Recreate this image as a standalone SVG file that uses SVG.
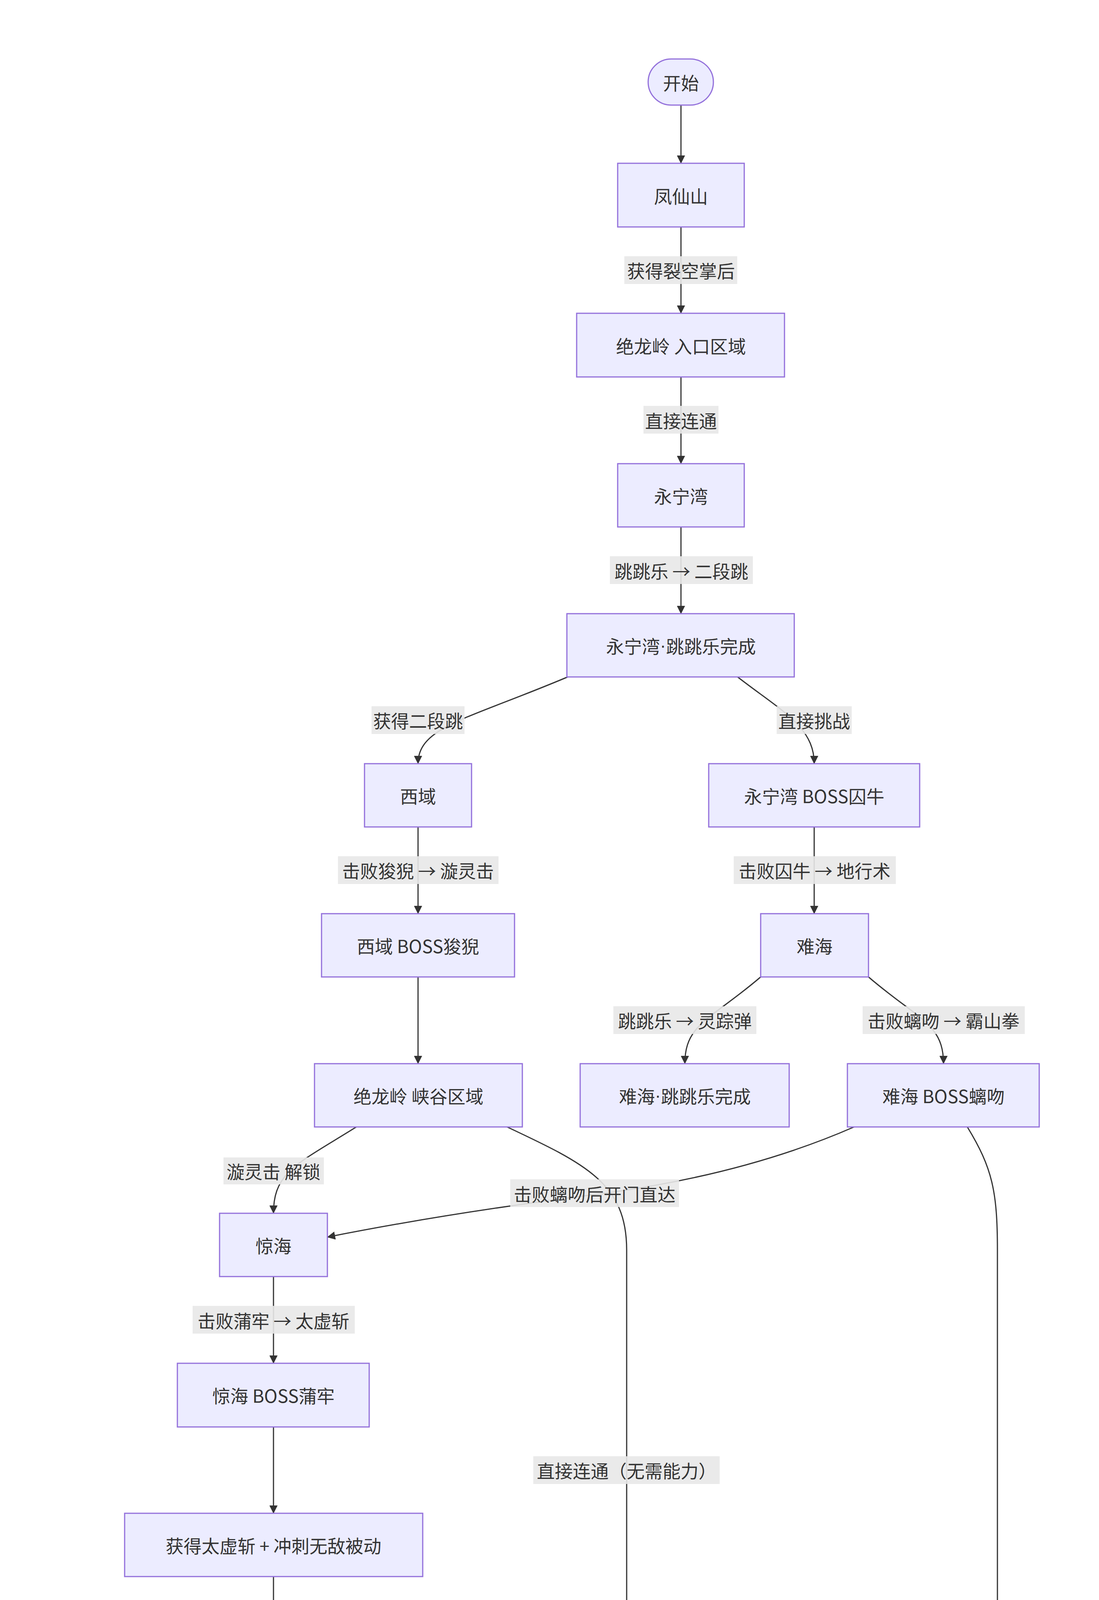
<svg xmlns="http://www.w3.org/2000/svg" width="2813" height="7623" viewBox="0 0 2813 7623">
<defs>
<marker id="a" viewBox="0 0 10 10" refX="9.5" refY="5" markerWidth="7" markerHeight="7" orient="auto"><path d="M0,0 L10,5 L0,10 z" fill="#333"/></marker>
</defs>
<style>
.n rect{fill:#ECECFF;stroke:#9370DB;stroke-width:3}
text{font-family:"Noto Sans CJK SC","Noto Sans",sans-serif;font-size:46px;fill:#333;text-anchor:middle;dominant-baseline:central}
.dot{font-family:"Liberation Sans",sans-serif}
.e path{fill:none;stroke:#333;stroke-width:3;marker-end:url(#a)}
.l rect{fill:#e8e8e8;opacity:0.9}
</style>
<rect width="2813" height="7623" fill="#fff"/>
<g class="e" id="edges">
<path d="M1743,269 L1743,418"/>
<path d="M1743,581 L1743,802"/>
<path d="M1743,965 L1743,1187"/>
<path d="M1743,1349 L1743,1571"/>
<path d="M1453,1733 C1200,1840 1070,1860 1070,1955"/>
<path d="M1888,1733 C2000,1820 2084,1860 2084,1955"/>
<path d="M1070,2117 L1070,2339"/>
<path d="M2084,2117 L2084,2339"/>
<path d="M1947,2501 C1820,2610 1753,2620 1753,2723"/>
<path d="M2223,2501 C2350,2610 2415,2620 2415,2723"/>
<path d="M1070,2501 L1070,2723"/>
<path d="M912,2885 C760,2980 700,3000 700,3106"/>
<path d="M1298,2885 C1500,2980 1604,3030 1604,3200 L1604,4571"/>
<path d="M2186,2885 Q1900,3010 1522,3058 T838,3167"/>
<path d="M2476,2885 C2540,2990 2553,3050 2553,3200 L2553,6340 C2553,6560 2200,6610 1652,6697"/>
<path d="M700,3268 L700,3490"/>
<path d="M700,3653 L700,3874"/>
<path d="M700,4036 L700,4258"/>
<path d="M700,4421 L700,4571"/>
<path d="M700,4733 L700,4955"/>
<path d="M1604,4733 L1604,4955"/>
<path d="M586,5117 C520,5190 482,5220 482,5267"/>
<path d="M884,5117 C990,5190 1049,5230 1049,5330 L1049,6300 C1049,6500 1150,6580 1258,6658"/>
<path d="M1507,5117 C1450,5190 1419,5220 1419,5267"/>
<path d="M1734,5117 C1820,5190 1850,5230 1850,5330 L1850,6300 C1850,6500 1700,6580 1608,6658"/>
<path d="M482,5429 L482,5651"/>
<path d="M1419,5429 L1419,5651"/>
<path d="M482,5813 L482,5962"/>
<path d="M1419,5813 L1419,5962"/>
<path d="M482,6124 L482,6274"/>
<path d="M1419,6124 L1419,6140 C1419,6220 1200,6240 813,6300"/>
<path d="M482,6436 L482,6480 C482,6560 700,6600 1186,6690"/>
<path d="M1419,6819 L1419,6970"/>
<path d="M1419,7204 L1419,7353"/>
</g>
<g class="l" id="edge-labels">
<rect x="1598" y="656" width="289" height="71"/><text x="1743" y="691">获得裂空掌后</text>
<rect x="1647" y="1039" width="192" height="71"/><text x="1743" y="1075">直接连通</text>
<rect x="1561" y="1424" width="366" height="71"/><text x="1744" y="1460">跳跳乐 → 二段跳</text>
<rect x="951" y="1808" width="238" height="71"/><text x="1070" y="1843">获得二段跳</text>
<rect x="1988" y="1808" width="192" height="71"/><text x="2084" y="1843">直接挑战</text>
<rect x="865" y="2192" width="411" height="71"/><text x="1070" y="2227">击败狻猊 → 漩灵击</text>
<rect x="1878" y="2192" width="415" height="71"/><text x="2085" y="2227">击败囚牛 → 地行术</text>
<rect x="1570" y="2576" width="366" height="71"/><text x="1753" y="2611">跳跳乐 → 灵踪弹</text>
<rect x="2208" y="2576" width="415" height="71"/><text x="2415" y="2611">击败螭吻 → 霸山拳</text>
<rect x="572" y="2963" width="257" height="69"/><text x="700" y="2997">漩灵击 解锁</text>
<rect x="1306" y="3019" width="432" height="71"/><text x="1522" y="3055">击败螭吻后开门直达</text>
<rect x="493" y="3343" width="415" height="71"/><text x="700" y="3379">击败蒲牢 → 太虚斩</text>
<rect x="1365" y="3728" width="477" height="71"/><text x="1604" y="3763">直接连通（无需能力）</text>
<rect x="572" y="4113" width="257" height="71"/><text x="700" y="4148">太虚斩 解锁</text>
<rect x="493" y="4808" width="415" height="71"/><text x="700" y="4843">击败狴犴 → 残阴术</text>
<rect x="1399" y="4808" width="415" height="71"/><text x="1606" y="4843">击败睚眦 → 登龙蹴</text>
<rect x="355" y="5504" width="255" height="71"/><text x="482" y="5540">残阴术 解锁</text>
<rect x="1222" y="5504" width="398" height="71"/><text x="1421" y="5540">登龙蹴三段跳 返回</text>
<rect x="248" y="6512" width="470" height="71"/><text x="483" y="6547">击败双BOSS → 魂元爆</text>
</g>
<g class="n" id="start"><rect x="1659" y="151" width="167" height="118" rx="59"/><text x="1743" y="210">开始</text></g>
<g class="n" id="fengxian"><rect x="1581" y="418" width="324" height="163"/><text x="1743" y="500">凤仙山</text></g>
<g class="n" id="entry"><rect x="1476" y="802" width="532" height="163"/><text x="1743" y="884">绝龙岭 入口区域</text></g>
<g class="n" id="yongning"><rect x="1581" y="1187" width="324" height="162"/><text x="1743" y="1268">永宁湾</text></g>
<g class="n" id="yongning-jump"><rect x="1451" y="1571" width="582" height="162"/><text x="1743" y="1652">永宁湾<tspan class="dot">·</tspan>跳跳乐完成</text></g>
<g class="n" id="xiyu"><rect x="933" y="1955" width="274" height="162"/><text x="1070" y="2036">西域</text></g>
<g class="n" id="yongning-boss"><rect x="1814" y="1955" width="540" height="162"/><text x="2084" y="2036">永宁湾 BOSS囚牛</text></g>
<g class="n" id="xiyu-boss"><rect x="823" y="2339" width="494" height="162"/><text x="1070" y="2420">西域 BOSS狻猊</text></g>
<g class="n" id="nanhai"><rect x="1947" y="2339" width="276" height="162"/><text x="2085" y="2420">难海</text></g>
<g class="n" id="canyon"><rect x="805" y="2723" width="532" height="162"/><text x="1071" y="2804">绝龙岭 峡谷区域</text></g>
<g class="n" id="nanhai-jump"><rect x="1485" y="2723" width="535" height="162"/><text x="1753" y="2804">难海<tspan class="dot">·</tspan>跳跳乐完成</text></g>
<g class="n" id="nanhai-boss"><rect x="2169" y="2723" width="491" height="162"/><text x="2415" y="2804">难海 BOSS螭吻</text></g>
<g class="n" id="jinghai"><rect x="562" y="3106" width="276" height="162"/><text x="700" y="3187">惊海</text></g>
<g class="n" id="jinghai-boss"><rect x="454" y="3490" width="491" height="163"/><text x="700" y="3571">惊海 BOSS蒲牢</text></g>
<g class="n" id="taixu"><rect x="319" y="3874" width="763" height="162"/><text x="700" y="3955">获得太虚斩 + 冲刺无敌被动</text></g>
<g class="n" id="doorA"><rect x="445" y="4258" width="509" height="163"/><text x="700" y="4339">绝龙岭 单向门A</text></g>
<g class="n" id="jueling"><rect x="538" y="4571" width="325" height="162"/><text x="700" y="4652">觉灵塔</text></g>
<g class="n" id="zangjian"><rect x="1442" y="4571" width="325" height="162"/><text x="1604" y="4652">葬剑岭</text></g>
<g class="n" id="jueling-boss"><rect x="431" y="4955" width="540" height="162"/><text x="701" y="5036">觉灵塔 BOSS狴犴</text></g>
<g class="n" id="zangjian-boss"><rect x="1335" y="4955" width="540" height="162"/><text x="1605" y="5036">葬剑岭 BOSS睚眦</text></g>
<g class="n" id="canyin"><rect x="273" y="5267" width="419" height="162"/><text x="482" y="5348">获得残阴术</text></g>
<g class="n" id="denglong"><rect x="1209" y="5267" width="420" height="162"/><text x="1419" y="5348">获得登龙蹴</text></g>
<g class="n" id="doorB"><rect x="228" y="5651" width="509" height="162"/><text x="482" y="5732">绝龙岭 单向门B</text></g>
<g class="n" id="origin"><rect x="1154" y="5651" width="531" height="162"/><text x="1419" y="5732">绝龙岭 起始区域</text></g>
<g class="n" id="shuanglong-l"><rect x="319" y="5962" width="325" height="162"/><text x="482" y="6043">双龙山</text></g>
<g class="n" id="shuanglong-r"><rect x="1258" y="5962" width="324" height="162"/><text x="1420" y="6043">双龙山</text></g>
<g class="n" id="shuanglong-boss"><rect x="152" y="6274" width="661" height="162"/><text x="482" y="6355">双龙山 BOSS蚣蝮+负屃</text></g>
<g class="n" id="souls"><rect x="1186" y="6658" width="466" height="161"/><text x="1419" y="6738">集齐三魂七魄</text></g>
<g class="n" id="final-boss"><rect x="1030" y="6970" width="778" height="234"/><text x="1419" y="7049">绝龙岭 最终BOSS 黑麒麟残</text><text x="1419" y="7122">躯</text></g>
<g class="n" id="end"><rect x="1335" y="7353" width="168" height="119" rx="59"/><text x="1419" y="7412">结局</text></g>
</svg>
